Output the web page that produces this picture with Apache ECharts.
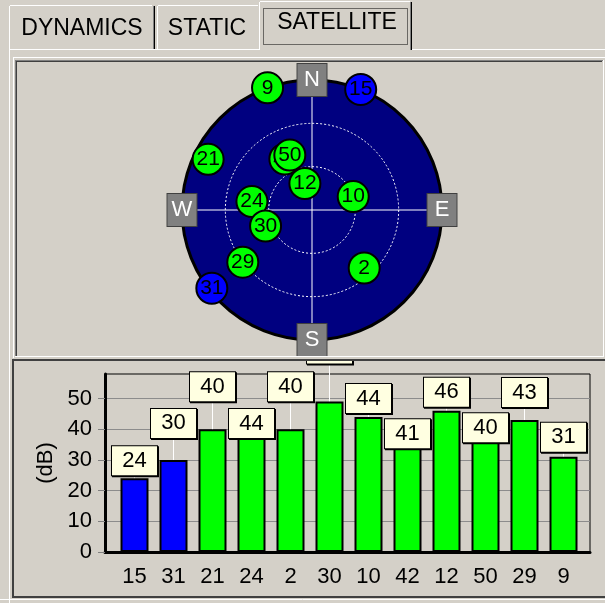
<!DOCTYPE html>
<html>
<head>
<meta charset="utf-8">
<script src="https://cdn.jsdelivr.net/npm/echarts@6/dist/echarts.min.js"></script>
<style>
  html, body { margin: 0; padding: 0; background: #d4d0c8; }
  #main { width: 605px; height: 603px; }
</style>
</head>
<body>
<div id="main"></div>
<script>
// signal bars, in the order of the bar chart
const barPrn = ['15', '31', '21', '24', '2', '30', '10', '42', '12', '50', '29', '9']
const barSnr = [24, 30, 40, 44, 40, 49, 44, 41, 46, 40, 43, 31]
const yTicks = [0, 10, 20, 30, 40, 50]

// sky plot, in drawing order (later ones on top)
const skyPrn = ['9', '15', '21', '42', '50', '12', '10', '24', '30', '29', '2', '31']
const skyAzimuth = [340, 22, 296, 332, 338, 345, 72, 278, 251, 233, 138, 232]
const skyElevation = [0, 0, 10, 50, 49, 71, 60, 48, 56, 30, 36, 2]

// satellites not used in the fix are drawn blue
const notUsed = ['15', '31']

const compassLabels = ['N', 'E', 'S', 'W']
const compassAzimuth = [0, 90, 180, 270]

const tabNames = ['DYNAMICS', 'STATIC', 'SATELLITE']

// how far each value box is lifted above its bar (px)
const labelLift = [3, 22, 28, -21, 28, 38, 4, -22, 4, -13, 13, 5]

const FONT = 'Liberation Sans, Arial, sans-serif'
const BG = '#d4d0c8'
const colorOf = prn => (notUsed.indexOf(prn) >= 0 ? '#0000ff' : '#00ff00')

const chart = echarts.init(document.getElementById('main'), null, { renderer: 'canvas' })

const bars = barSnr.map((v, i) => ({
  value: v,
  itemStyle: { color: colorOf(barPrn[i]) },
  labelLine: { show: labelLift[i] > 0 }
}))

// one series per satellite so a covered satellite also has its number covered
const satSeries = skyPrn.map((prn, i) => ({
  type: 'scatter', coordinateSystem: 'polar', polarIndex: 0, zlevel: 1, z: 3 + i * 0.01,
  name: prn,
  data: [{ name: prn, value: [skyElevation[i], skyAzimuth[i]] }],
  symbol: 'circle', symbolSize: 31,
  itemStyle: { color: colorOf(prn), borderColor: '#000', borderWidth: 2, opacity: 1 },
  label: {
    show: true, position: 'inside', formatter: '{b}',
    color: '#000', fontFamily: FONT, fontSize: 21
  }
}))

const compass = compassLabels.map((c, i) => ({ name: c, value: [0, compassAzimuth[i]] }))

// window chrome: tabs and panel borders (upper layer, so it hides the top of the tall value box)
const line = (x1, y1, x2, y2, color, w) => ({
  type: 'line', zlevel: 1, z: 6, silent: true,
  shape: { x1, y1, x2, y2 },
  style: { stroke: color, lineWidth: w || 1 }
})
const chrome = [
  { type: 'rect', zlevel: 1, z: 0, silent: true, shape: { x: 0, y: 0, width: 605, height: 359 }, style: { fill: BG } },
  // tab 1
  line(9.5, 6, 9.5, 49, '#fff'), line(10, 5.5, 152, 5.5, '#fff'),
  line(153.5, 6, 153.5, 49, '#808080'), line(154.5, 6, 154.5, 49, '#000'),
  // tab 2
  line(157.5, 6, 157.5, 49, '#fff'), line(158, 5.5, 258, 5.5, '#fff'),
  // tab 3 (selected)
  line(259.5, 2, 259.5, 50, '#fff'), line(260, 1.5, 410, 1.5, '#fff'),
  line(410.5, 2, 410.5, 50, '#808080'), line(411.5, 2, 411.5, 50, '#000'),
  { type: 'rect', zlevel: 1, z: 6, silent: true, shape: { x: 263.5, y: 8.5, width: 144, height: 36 },
    style: { fill: null, stroke: '#000', lineWidth: 1, lineDash: [1, 1] } },
  // tab body
  line(9, 49.5, 259, 49.5, '#fff'), line(412, 49.5, 605, 49.5, '#fff'),
  line(9.5, 49, 9.5, 603, '#fff'),
  // upper panel (sunken)
  line(13, 57.5, 605, 57.5, '#fff'), line(13.5, 57, 13.5, 358, '#fff'),
  line(15, 60.5, 603, 60.5, '#808080'), line(15.5, 60, 15.5, 357, '#808080'),
  line(16, 61.5, 602, 61.5, '#404040'), line(16.5, 61, 16.5, 356, '#404040'),
  line(15, 356.5, 603, 356.5, '#fff'), line(603.5, 60, 603.5, 357, '#fff'),
  // lower panel
  { type: 'rect', zlevel: 1, z: 6, silent: true, shape: { x: 13, y: 360, width: 600, height: 237 },
    style: { fill: null, stroke: '#404040', lineWidth: 2 } },
  line(0, 599.5, 605, 599.5, '#fff')
]
const tabText = [
  { x: 82, y: 29 }, { x: 207, y: 29 }, { x: 337, y: 23 }
].map((p, i) => ({
  type: 'text', zlevel: 1, z: 7, silent: true, x: p.x, y: p.y,
  style: { text: tabNames[i], font: '23px ' + FONT, fill: '#000', align: 'center', verticalAlign: 'middle' }
}))

const hidden = { axisLine: { show: false }, axisTick: { show: false }, axisLabel: { show: false }, splitLine: { show: false } }

chart.setOption({
  animation: false,
  backgroundColor: BG,
  graphic: chrome.concat(tabText),
  grid: [
    { left: 105, right: 15, top: 374, bottom: 51, show: true, borderColor: '#000', borderWidth: 1, backgroundColor: 'transparent' },
    { left: 115, right: 22, top: 374, bottom: 51 }
  ],
  xAxis: [
    {
      gridIndex: 0, type: 'value', min: 0, max: 1,
      axisLine: { show: true, lineStyle: { color: '#000', width: 3 } },
      axisTick: { show: false }, axisLabel: { show: false }, splitLine: { show: false }
    },
    {
      gridIndex: 1, type: 'category', data: barPrn,
      axisLine: { show: false }, axisTick: { show: false },
      axisLabel: { margin: 14, color: '#000', fontFamily: FONT, fontSize: 22 }
    }
  ],
  yAxis: [
    {
      gridIndex: 0, type: 'value', min: 0, max: 58, interval: 10,
      name: '(dB)', nameLocation: 'middle', nameGap: 42, nameRotate: 90,
      nameTextStyle: { color: '#000', fontFamily: FONT, fontSize: 22 },
      axisLine: { show: true, lineStyle: { color: '#000', width: 3 } },
      axisTick: { show: true, length: 7, customValues: yTicks, lineStyle: { color: '#808080' } },
      axisLabel: { margin: 13, customValues: yTicks, color: '#000', fontFamily: FONT, fontSize: 22 },
      splitLine: { show: true, lineStyle: { color: '#8c8c8c', width: 1 } }
    },
    {
      gridIndex: 1, type: 'value', min: 0, max: 58, show: false
    }
  ],
  // polar 0 carries the disc, crosshair and satellites; polar 1 only the dotted elevation rings
  polar: [
    { center: [312, 210], radius: 130 },
    { center: [312, 210], radius: 130 }
  ],
  radiusAxis: [
    Object.assign({}, hidden, {
      polarIndex: 0, type: 'value', min: 0, max: 90, interval: 30, inverse: true, zlevel: 1, z: 2,
      splitArea: { show: true, areaStyle: { color: ['#000080'] } }
    }),
    Object.assign({}, hidden, {
      polarIndex: 1, type: 'value', min: 0, max: 90, interval: 30, zlevel: 1, z: 2.1,
      splitLine: { show: true, lineStyle: { color: '#fff', width: 1, type: [2, 2] } }
    })
  ],
  angleAxis: [
    Object.assign({}, hidden, {
      polarIndex: 0, type: 'value', min: 0, max: 360, interval: 90, startAngle: 90, clockwise: true, zlevel: 1, z: 2.2,
      axisLine: { show: true, lineStyle: { color: '#000', width: 3 } },
      splitLine: { show: true, lineStyle: { color: '#fff', width: 1 } }
    }),
    Object.assign({}, hidden, {
      polarIndex: 1, type: 'value', min: 0, max: 360, zlevel: 1, z: 2
    })
  ],
  series: [
    {
      type: 'bar', xAxisIndex: 1, yAxisIndex: 1, z: 1,
      data: bars, barWidth: 28,
      itemStyle: { borderColor: '#000', borderWidth: 2 },
      label: {
        show: true, position: 'top', distance: 0,
        color: '#000', fontFamily: FONT, fontSize: 22,
        backgroundColor: '#ffffe1', borderColor: '#000', borderWidth: 1,
        shadowColor: '#000', shadowOffsetX: 1, shadowOffsetY: 1, shadowBlur: 0,
        width: 45, height: 29, lineHeight: 29, align: 'center'
      },
      labelLayout: p => ({ dy: -labelLift[p.dataIndex] }),
      labelLine: { show: true, lineStyle: { color: '#fff', width: 1 } }
    },
    {
      type: 'scatter', coordinateSystem: 'polar', polarIndex: 0, zlevel: 1, z: 4,
      data: compass, symbol: 'rect', symbolSize: [30, 33],
      itemStyle: { color: '#808080', borderColor: '#404040', borderWidth: 1, opacity: 1 },
      label: {
        show: true, position: 'inside', formatter: '{b}',
        color: '#fff', fontFamily: FONT, fontSize: 22
      }
    }
  ].concat(satSeries)
})
</script>
</body>
</html>
